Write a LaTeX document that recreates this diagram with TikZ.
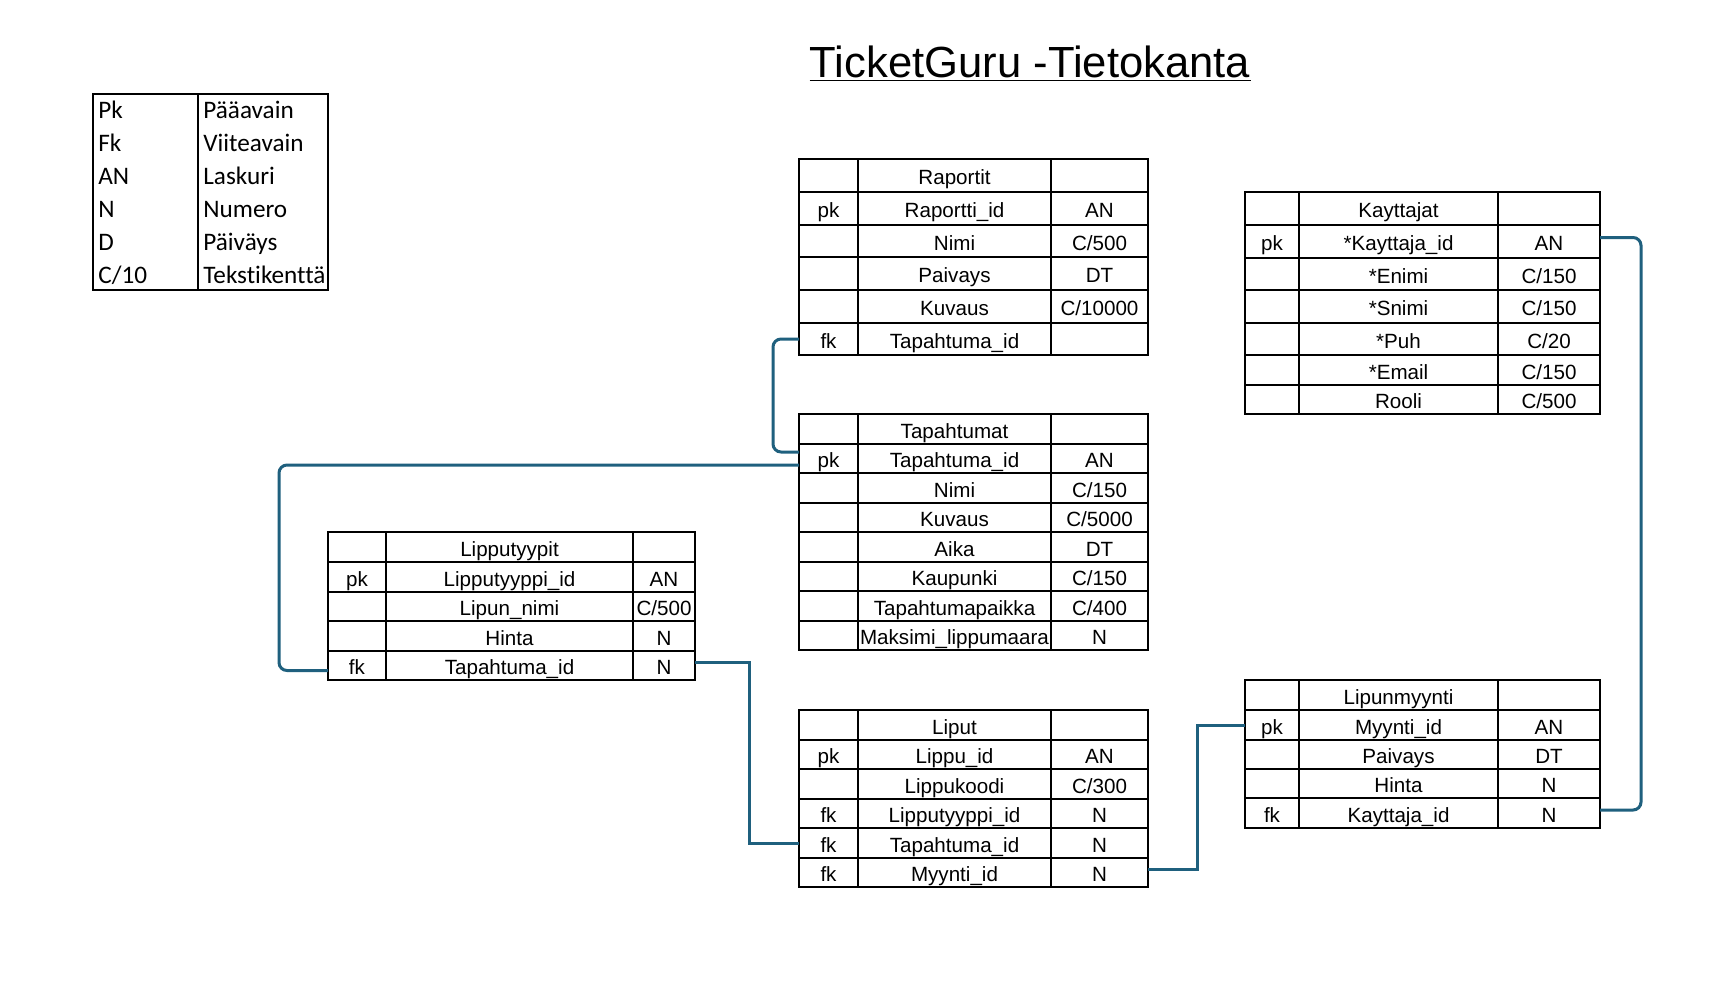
\documentclass[tikz,border=0pt]{standalone}
\usepackage{fontspec}
\setmainfont{Liberation Sans}
\newfontfamily\legfont[Ligatures=NoCommon]{Carlito}
\definecolor{conncol}{RGB}{31,96,126}
\tikzset{
  cellst/.style={draw=black, line width=0.6pt, inner sep=0pt, outer sep=0pt,
    text height=9.4pt, text depth=0pt, font={\fontsize{10.3}{12}\selectfont}},
  outerbox/.style={draw=black, line width=1.3pt},
  headline/.style={draw=black, line width=1pt},
  conn/.style={draw=conncol, line width=1.5pt},
  connround/.style={conn, rounded corners=4pt},
  legbox/.style={draw=black, line width=1.4pt, inner sep=0pt, outer sep=0pt},
  legtext/.style={anchor=base west, inner sep=0pt, font={\legfont\fontsize{12.6}{14}\selectfont}},
  titlest/.style={anchor=base, inner sep=0pt, font={\fontsize{21.8}{26}\selectfont}},
  underl/.style={draw=black, line width=0.8pt},
}
\newcommand\erow[6]{%
  \pgfmathsetmacro\erRH{(#3-#2)*0.5}%
  \pgfmathsetmacro\erWA{(\tbB-\tbA)*0.5}%
  \pgfmathsetmacro\erWB{(\tbC-\tbB)*0.5}%
  \pgfmathsetmacro\erWC{(\tbD-\tbC)*0.5}%
  \node[cellst, minimum height=\erRH pt, minimum width=\erWA pt] (#1k) at ({(\tbA+\tbB)/2},{(#2+#3)/2}) {#4};
  \node[cellst, minimum height=\erRH pt, minimum width=\erWB pt] (#1f) at ({(\tbB+\tbC)/2},{(#2+#3)/2}) {#5};
  \node[cellst, minimum height=\erRH pt, minimum width=\erWC pt] (#1t) at ({(\tbC+\tbD)/2},{(#2+#3)/2}) {#6};
}
\begin{document}
\begin{tikzpicture}[x=0.5pt,y=-0.5pt]
\path[fill=white, use as bounding box] (0,0) rectangle (1733,1003);

% title
\node[titlest] (title) at (1030,77.7) {TicketGuru -Tietokanta};
\draw[underl] ([yshift=-1.3pt]title.base west) -- ([yshift=-1.3pt]title.base east);

% legend
\node[legbox, minimum width=52.5pt, minimum height=98pt] (legA) at (145.5,192) {};
\node[legbox, minimum width=65pt, minimum height=98pt] (legB) at (263,192) {};
\node[legtext] (lk1) at (98,118.8) {Pk};
\node[legtext] (lk2) at (98,151.8) {Fk};
\node[legtext] (lk3) at (98,184.7) {AN};
\node[legtext] (lk4) at (98,217.7) {N};
\node[legtext] (lk5) at (98,250.5) {D};
\node[legtext] (lk6) at (98,283.3) {C/10};
\node[legtext] (lv1) at (203,118.8) {Pääavain};
\node[legtext] (lv2) at (203,151.8) {Viiteavain};
\node[legtext] (lv3) at (203,184.7) {Laskuri};
\node[legtext] (lv4) at (203,217.7) {Numero};
\node[legtext] (lv5) at (203,250.5) {Päiväys};
\node[legtext] (lv6) at (203,283.3) {Tekstikenttä};

% Raportit
\def\tbA{799}\def\tbB{858}\def\tbC{1051}\def\tbD{1148}
\erow{rapH}{159}{192}{}{Raportit}{}
\erow{rap1}{192}{225}{pk}{Raportti\_id}{AN}
\erow{rap2}{225}{257}{}{Nimi}{C/500}
\erow{rap3}{257}{290}{}{Paivays}{DT}
\erow{rap4}{290}{323}{}{Kuvaus}{C/10000}
\erow{rap5}{323}{355}{fk}{Tapahtuma\_id}{}
\draw[outerbox] (rapHk.north west) rectangle (rap5t.south east);
\draw[headline] (rapHk.south west) -- (rapHt.south east);

% Tapahtumat
\erow{tapH}{414}{444}{}{Tapahtumat}{}
\erow{tap1}{444}{473}{pk}{Tapahtuma\_id}{AN}
\erow{tap2}{473}{503}{}{Nimi}{C/150}
\erow{tap3}{503}{532}{}{Kuvaus}{C/5000}
\erow{tap4}{532}{562}{}{Aika}{DT}
\erow{tap5}{562}{591}{}{Kaupunki}{C/150}
\erow{tap6}{591}{621}{}{Tapahtumapaikka}{C/400}
\erow{tap7}{621}{650}{}{Maksimi\_lippumaara}{N}
\draw[outerbox] (tapHk.north west) rectangle (tap7t.south east);
\draw[headline] (tapHk.south west) -- (tapHt.south east);

% Liput
\erow{lptH}{710}{740}{}{Liput}{}
\erow{lpt1}{740}{769}{pk}{Lippu\_id}{AN}
\erow{lpt2}{769}{799}{}{Lippukoodi}{C/300}
\erow{lpt3}{799}{828}{fk}{Lipputyyppi\_id}{N}
\erow{lpt4}{828}{858}{fk}{Tapahtuma\_id}{N}
\erow{lpt5}{858}{887}{fk}{Myynti\_id}{N}
\draw[outerbox] (lptHk.north west) rectangle (lpt5t.south east);
\draw[headline] (lptHk.south west) -- (lptHt.south east);

% Lipputyypit
\def\tbA{328}\def\tbB{386}\def\tbC{633}\def\tbD{695}
\erow{lipH}{532}{562}{}{Lipputyypit}{}
\erow{lip1}{562}{592}{pk}{Lipputyyppi\_id}{AN}
\erow{lip2}{592}{621}{}{Lipun\_nimi}{C/500}
\erow{lip3}{621}{651}{}{Hinta}{N}
\erow{lip4}{651}{680}{fk}{Tapahtuma\_id}{N}
\draw[outerbox] (lipHk.north west) rectangle (lip4t.south east);
\draw[headline] (lipHk.south west) -- (lipHt.south east);

% Kayttajat
\def\tbA{1245}\def\tbB{1299}\def\tbC{1498}\def\tbD{1600}
\erow{kayH}{192}{225}{}{Kayttajat}{}
\erow{kay1}{225}{258}{pk}{*Kayttaja\_id}{AN}
\erow{kay2}{258}{290}{}{*Enimi}{C/150}
\erow{kay3}{290}{323}{}{*Snimi}{C/150}
\erow{kay4}{323}{355}{}{*Puh}{C/20}
\erow{kay5}{355}{385}{}{*Email}{C/150}
\erow{kay6}{385}{414}{}{Rooli}{C/500}
\draw[outerbox] (kayHk.north west) rectangle (kay6t.south east);
\draw[headline] (kayHk.south west) -- (kayHt.south east);

% Lipunmyynti
\erow{lmyH}{680}{710}{}{Lipunmyynti}{}
\erow{lmy1}{710}{740}{pk}{Myynti\_id}{AN}
\erow{lmy2}{740}{769}{}{Paivays}{DT}
\erow{lmy3}{769}{798}{}{Hinta}{N}
\erow{lmy4}{798}{828}{fk}{Kayttaja\_id}{N}
\draw[outerbox] (lmyHk.north west) rectangle (lmy4t.south east);
\draw[headline] (lmyHk.south west) -- (lmyHt.south east);

% connectors
\draw[connround] (rap5k.west) -- ++(-26,0) |- ([yshift=3.25pt]tap1k.west);
\draw[connround] ([yshift=-3.25pt]tap1k.west) -- ++(-520,0) |- ([yshift=-2.5pt]lip4k.west);
\draw[conn] ([yshift=1.75pt]lip4t.east) -- ++(54,0) |- (lpt4k.west);
\draw[conn] ([yshift=1.6pt]lpt5t.east) -- ++(49,0) |- (lmy1k.west);
\draw[connround] ([yshift=2pt]kay1t.east) -- ++(41,0) |- ([yshift=1.5pt]lmy4t.east);
\end{tikzpicture}
\end{document}
